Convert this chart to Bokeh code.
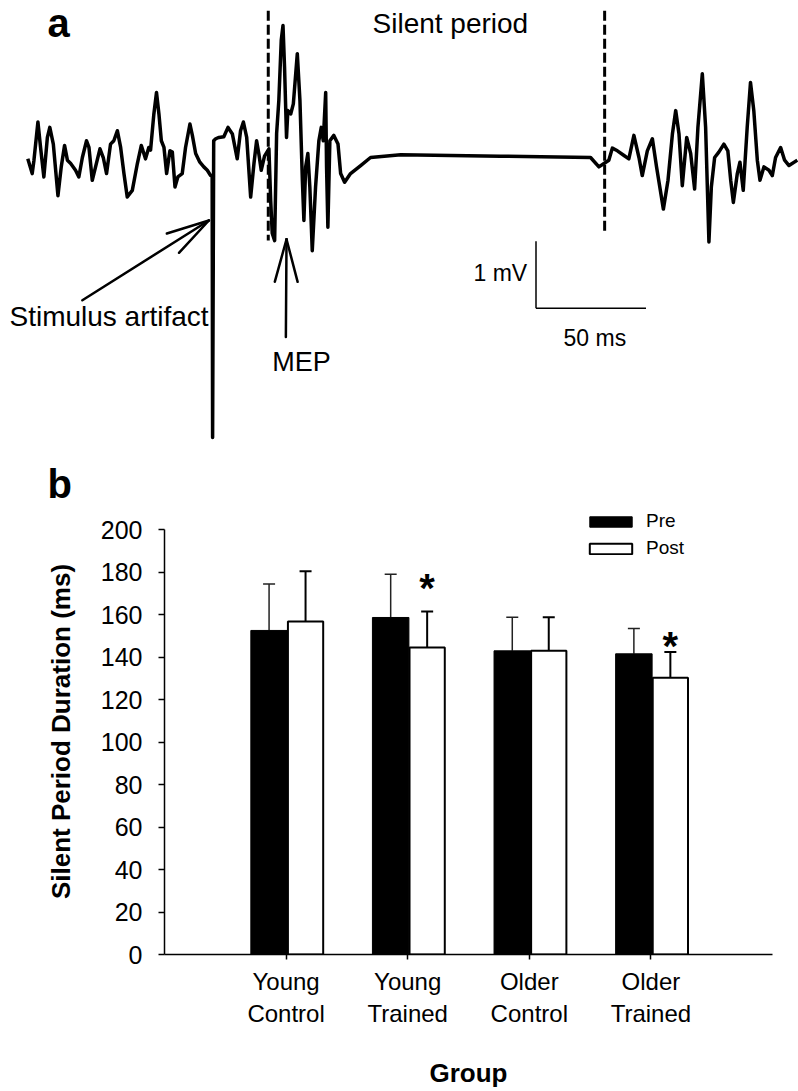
import numpy as np
from bokeh.plotting import figure
from bokeh.models import (ColumnDataSource, Whisker, TeeHead, Label, Legend,
                          LegendItem, FixedTicker, Range1d)
from bokeh.layouts import column
from bokeh.embed import file_html
from bokeh.resources import INLINE

# ---------------- Panel a : EMG trace (time in ms from stimulus, amplitude in mV)
trace_t = [
    -84.0, -82.0, -81.2, -79.4, -78.2, -76.7, -75.1, -74.0, -72.4, -70.3,
    -68.8, -67.3, -66.0, -64.5, -62.3, -60.8, -59.2, -57.3, -56.2, -54.7,
    -53.2, -51.2, -49.7, -48.2, -46.4, -44.9, -43.3, -41.8, -40.3, -38.8,
    -36.5, -34.2, -32.4, -30.5, -29.0, -28.2, -26.7, -25.5, -24.4, -23.3,
    -22.1, -20.9, -19.4, -18.3, -17.1, -15.8, -13.8, -12.3, -10.3, -9.2,
    -7.7, -5.8, -4.0, -2.4, -0.9, -0.2, 0.0, 0.5, 1.4, 2.9,
    5.1, 7.0, 9.0, 11.2, 12.7, 14.0, 15.5, 17.3, 18.8, 20.0,
    21.0, 22.1, 23.6, 25.6, 26.4, 27.1, 28.2, 29.1, 30.1, 31.2,
    32.0, 32.7, 33.6, 34.2, 35.5, 36.7, 38.5, 39.7, 40.8, 41.5,
    42.3, 43.3, 44.2, 45.3, 46.8, 48.3, 49.4, 50.3, 51.4, 51.8,
    52.4, 53.3, 55.1, 57.0, 58.2, 60.0, 62.7, 67.3, 71.8, 85.5,
    130.9, 171.8, 175.6, 177.9, 180.1, 181.7, 184.0, 187.0, 189.2, 191.5,
    193.8, 195.3, 197.6, 199.9, 201.8, 204.9, 207.0, 209.0, 210.5, 212.0,
    213.5, 215.5, 217.3, 219.1, 220.6, 222.6, 224.1, 225.6, 226.7, 228.2,
    230.1, 232.4, 234.2, 235.5, 236.7, 238.5, 239.7, 241.2, 243.0, 244.5,
    246.0, 247.6, 248.8, 250.6, 252.9, 254.4, 255.9, 258.2, 260.0, 262.0,
    265.8,
]
trace_mv = [
    -0.05, -0.27, -0.07, 0.50, 0.12, -0.32, 0.27, 0.42, 0.17, -0.60,
    -0.17, 0.15, -0.07, -0.12, -0.22, -0.32, -0.03, 0.22, 0.12, -0.37,
    -0.17, 0.10, -0.03, -0.27, 0.17, 0.22, 0.37, 0.12, -0.27, -0.62,
    -0.52, -0.12, 0.15, -0.05, 0.12, 0.08, 0.62, 0.94, 0.62, 0.22,
    0.12, -0.27, 0.07, 0.05, -0.47, -0.32, -0.27, 0.12, 0.47, 0.30,
    0.03, -0.10, -0.17, -0.22, -0.30, -0.30, -4.21, 0.22, 0.25, 0.27,
    0.28, 0.42, 0.32, -0.05, 0.37, 0.50, 0.27, -0.62, -0.12, 0.22,
    0.03, -0.22, -0.01, 0.10, -0.67, -1.16, -1.27, 0.33, 0.82, 1.72,
    1.94, 1.32, 0.27, 0.67, 0.62, 0.77, 1.52, 0.82, -0.37, -0.97,
    -0.17, 0.03, -0.47, -1.42, -0.47, 0.22, 0.42, 0.22, 0.94, -0.17,
    -1.07, 0.22, 0.30, 0.17, -0.27, -0.40, -0.27, -0.15, -0.03, 0.01,
    -0.01, -0.03, -0.17, -0.12, -0.07, 0.11, 0.07, 0.00, -0.05, 0.30,
    -0.03, -0.30, 0.07, 0.25, -0.17, -0.80, -0.37, 0.32, 0.67, 0.32,
    -0.45, 0.27, 0.03, -0.50, 0.42, 1.22, 0.42, -1.29, -0.47, -0.03,
    0.05, 0.17, 0.07, -0.37, -0.70, -0.27, -0.10, -0.52, 0.42, 1.09,
    0.67, -0.07, -0.37, -0.17, -0.22, -0.30, -0.03, 0.12, -0.07, -0.15,
    -0.07,
]
silent_onset_ms = 25.3
silent_end_ms = 178.2
scale_bar_mv = 1.0
scale_bar_ms = 50.0

# ---------------- Panel b : silent period duration
groups = ["Young\nControl", "Young\nTrained", "Older\nControl", "Older\nTrained"]
pre_mean = [152.5, 158.6, 142.9, 141.5]
pre_sd = [21.9, 20.4, 15.8, 11.9]
post_mean = [156.7, 144.5, 142.9, 130.2]
post_sd = [23.7, 16.9, 15.8, 12.2]
significant_post = [False, True, False, True]
y_ticks = [0, 20, 40, 60, 80, 100, 120, 140, 160, 180, 200]

FONT = "Liberation Sans"
W = 798


def no_frame_align(fig):
    try:
        fig.frame_align = False
    except Exception:
        pass


# ======================= Panel a
HA = 508
xa0 = -96.41
xa1 = xa0 + W / 2.2
ya1 = 155 / 67.0
ya0 = ya1 - HA / 67.0
pa = figure(width=W, height=HA, x_range=Range1d(xa0, xa1), y_range=Range1d(ya0, ya1),
            output_backend="svg", toolbar_location=None, min_border=0,
            x_axis_location=None, y_axis_location=None)
no_frame_align(pa)
pa.grid.visible = False
pa.outline_line_color = None
pa.background_fill_color = "white"

pa.line(trace_t, trace_mv, line_width=3.5, line_color="black", line_join="round")

# dashed markers for the silent period
pa.segment(x0=[silent_onset_ms, silent_end_ms], x1=[silent_onset_ms, silent_end_ms],
           y0=[2.16, 2.16], y1=[-1.27, -1.14], line_dash="10 4", line_width=3,
           line_color="black")

pxx = W / (xa1 - xa0)
pxy = HA / (ya1 - ya0)


def open_arrow(fig, tail, tip, arm=44.0, half_deg=15.0, lw=2.5):
    dx = (tail[0] - tip[0]) * pxx
    dy = (tail[1] - tip[1]) * pxy
    ang = np.arctan2(dy, dx)
    xs = [[tail[0], tip[0]]]
    ys = [[tail[1], tip[1]]]
    for s in (1, -1):
        a = ang + s * np.radians(half_deg)
        xs.append([tip[0] + arm * np.cos(a) / pxx, tip[0]])
        ys.append([tip[1] + arm * np.sin(a) / pxy, tip[1]])
    fig.multi_line(xs, ys, line_width=lw, line_color="black", line_cap="round")


open_arrow(pa, (-59.2, -2.16), (-1.7, -0.97))
open_arrow(pa, (33.3, -2.71), (33.6, -1.25))

# scale bar
sb_t, sb_v = 147.0, -2.28
pa.multi_line([[sb_t, sb_t], [sb_t, sb_t + scale_bar_ms]],
              [[sb_v + scale_bar_mv, sb_v], [sb_v, sb_v]],
              line_width=1.5, line_color="black")

# text labels (x, baseline y); a small shift compensates the label box offset
for txt, x, y, size, align, style in [
    ("a", -75.0, 1.76, 40, "left", "bold"),
    ("b", -75.0, -5.12, 40, "left", "bold"),
    ("Silent period", 72.7, 1.82, 28, "left", "normal"),
    ("Stimulus artifact", -1.8, -2.55, 28, "right", "normal"),
    ("MEP", 27.1, -3.22, 27, "left", "normal"),
    ("1 mV", 143.0, -1.88, 23, "right", "normal"),
    ("50 ms", 159.5, -2.84, 23, "left", "normal"),
]:
    pa.add_layout(Label(x=x, y=y + 0.36 * size / pxy, text=txt, text_font=FONT,
                        text_font_size=f"{size}px", text_align=align,
                        text_baseline="alphabetic", text_font_style=style,
                        text_color="black"))

# ======================= Panel b
HB = 1091 - HA
PXY_B = 2.125          # pixels per ms on the bar chart's value axis
y_top = 200 + (529 - HA) / PXY_B
pb = figure(width=W, height=HB, x_range=Range1d(0, 5), y_range=Range1d(0, y_top),
            output_backend="svg", toolbar_location=None,
            min_border_left=164, min_border_right=26, min_border_top=0,
            min_border_bottom=137)
no_frame_align(pb)
pb.grid.visible = False
pb.outline_line_color = None

pos = np.arange(1, len(groups) + 1)
pre_x = pos - 0.14
post_x = pos + 0.16

r_pre = pb.vbar(x=pre_x, top=pre_mean, bottom=0, width=0.30, fill_color="black",
                line_color="black", line_width=1)
r_post = pb.vbar(x=post_x, top=post_mean, bottom=0, width=0.29, fill_color="white",
                 line_color="black", line_width=2)

src_pre = ColumnDataSource(dict(base=pre_x, lower=pre_mean,
                                upper=np.array(pre_mean) + np.array(pre_sd)))
src_post = ColumnDataSource(dict(base=post_x, lower=post_mean,
                                 upper=np.array(post_mean) + np.array(post_sd)))
pb.add_layout(Whisker(source=src_pre, base="base", lower="lower", upper="upper",
                      dimension="height", line_width=1.5, line_color="#222222",
                      upper_head=TeeHead(size=12, line_width=1.5, line_color="#222222"),
                      lower_head=None))
pb.add_layout(Whisker(source=src_post, base="base", lower="lower", upper="upper",
                      dimension="height", line_width=2, line_color="black",
                      upper_head=TeeHead(size=12, line_width=2, line_color="black"),
                      lower_head=None))

# significance asterisks (baseline positions)
star_base = {1: 172.3, 3: 145.0}
for i, sig in enumerate(significant_post):
    if sig:
        pb.add_layout(Label(x=post_x[i], y=star_base[i], text="*", text_font=FONT,
                            text_font_size="40px", text_font_style="bold",
                            text_color="black",
                            text_align="center", text_baseline="alphabetic"))

pb.xaxis.ticker = FixedTicker(ticks=list(pos))
pb.xaxis.major_label_overrides = {int(p): g for p, g in zip(pos, groups)}
pb.yaxis.ticker = FixedTicker(ticks=y_ticks)
pb.yaxis.bounds = (0, 200)
for ax in (pb.xaxis, pb.yaxis):
    ax.axis_line_color = "black"
    ax.axis_line_width = 1.5
    ax.major_tick_line_color = "black"
    ax.major_tick_line_width = 1.5
    ax.major_tick_in = 0
    ax.minor_tick_line_color = None
    ax.major_label_text_font = FONT
    ax.major_label_text_color = "black"
    ax.axis_label_text_font = FONT
    ax.axis_label_text_font_style = "bold"
    ax.axis_label_text_font_size = "26px"
    ax.axis_label_text_color = "black"
pb.xaxis.major_tick_out = 5
pb.yaxis.major_tick_out = 6
pb.yaxis.major_label_text_font_size = "25px"
pb.xaxis.major_label_text_font_size = "24px"
pb.xaxis.major_label_text_line_height = 1.2
pb.yaxis.major_label_standoff = 16
pb.xaxis.major_label_standoff = 8
pb.yaxis.axis_label = "Silent Period Duration (ms)"
pb.xaxis.axis_label = "Group"
pb.yaxis.axis_label_standoff = 22
pb.xaxis.axis_label_standoff = 28

legend = Legend(items=[LegendItem(label="Pre", renderers=[r_pre]),
                       LegendItem(label="Post", renderers=[r_post])],
                location=(420, 395), border_line_color=None, background_fill_alpha=0,
                padding=0, margin=0, glyph_width=53, glyph_height=13, label_height=13,
                spacing=5, label_standoff=9, label_text_font=FONT,
                label_text_font_size="19px", label_text_color="black")
pb.add_layout(legend)

layout = column(pa, pb, spacing=0)
open("out.html", "w").write(file_html(layout, INLINE))
